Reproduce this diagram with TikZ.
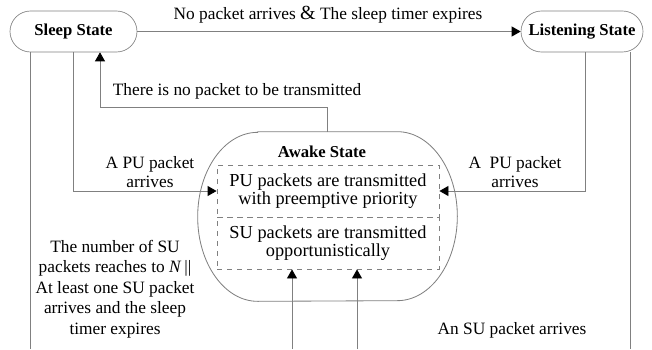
\documentclass[tikz,border=0pt]{standalone}
\usepackage{fontspec}
\setmainfont{Liberation Serif}
\usetikzlibrary{arrows.meta}

\tikzset{
  state/.style={draw=gray,rounded corners=12.3pt,minimum height=24.6pt,inner sep=0pt,font=\fontsize{10}{11.4}\bfseries\selectfont},
  wire/.style={draw=gray,line width=0.5pt},
  flow/.style={wire,-{Triangle[color=black,length=5.4pt,width=6pt]}},
  part/.style={draw=gray,dashed,line width=0.5pt,minimum width=133.2pt,minimum height=31.2pt,inner sep=0pt,align=center,font=\fontsize{11}{11}\selectfont},
  lbl/.style={align=center}
}

\begin{document}
\begin{tikzpicture}[x=0.6pt,y=-0.6pt,font=\fontsize{10.4}{11.4}\selectfont]
\useasboundingbox (0,0) rectangle (652,349);

% the three states
\node[state,minimum width=76.2pt] (sleep) at (73.5,31.5) {Sleep State};
\node[state,minimum width=73.2pt] (listen) at (582,31.5) {Listening State};
\node[minimum width=155.4pt,minimum height=101.4pt] (awake) at (327.5,216.5) {};
\draw[wire] ([xshift=36pt]awake.north west) -- ([xshift=-36pt]awake.north east)
  arc[start angle=90,end angle=-90,x radius=36pt,y radius=50.7pt]
  -- ([xshift=36pt]awake.south west)
  arc[start angle=270,end angle=90,x radius=36pt,y radius=50.7pt] -- cycle;
\node[font=\fontsize{10}{11.4}\bfseries\selectfont] (awaketitle) at (322,152) {Awake State};
\node[part] (pu) at (328,191) {PU packets are transmitted\\with preemptive priority};
\node[part] (su) at (328,243) {SU packets are transmitted\\opportunistically};

% where the lines bend or leave the frame
\coordinate (nopkt) at (100,107);
\coordinate (rdrop) at (585,0);
\coordinate (botA) at (30,349);
\coordinate (botB) at (292,349);
\coordinate (botC) at (357,349);
\coordinate (botD) at (630,349);

% transitions
\draw[flow] (sleep.east) -- (listen.west);
\node (l1) at (328,15) {No packet arrives {\fontsize{12}{12}\selectfont\&} The sleep timer expires};

\draw[flow] (awake.north) |- (nopkt) -- (nopkt |- sleep.south);
\node[anchor=west] (l2) at (107,91) {There is no packet to be transmitted};

\draw[flow] (sleep.south) |- (pu.west);
\node[lbl] (l3) at (150,172) {A PU packet\\arrives};

\draw[flow] (listen.south -| rdrop) |- (pu.east);
\node[lbl] (l4) at (515,172) {A\ \ PU packet\\arrives};

\draw[wire] (sleep.south -| botA) -- (botA);
\draw[wire] (listen.south -| botD) -- (botD);
\draw[flow] (botB) -- (su.south -| botB);
\draw[flow] (botC) -- (su.south -| botC);

\node[lbl,font=\fontsize{10.4}{12.3}\selectfont] (l5) at (115,289) {The number of SU\\packets reaches to \textit{N}\,||\\At least one SU packet\\arrives and the sleep\\timer expires};
\node (l6) at (512,330) {An SU packet arrives};
\end{tikzpicture}
\end{document}
